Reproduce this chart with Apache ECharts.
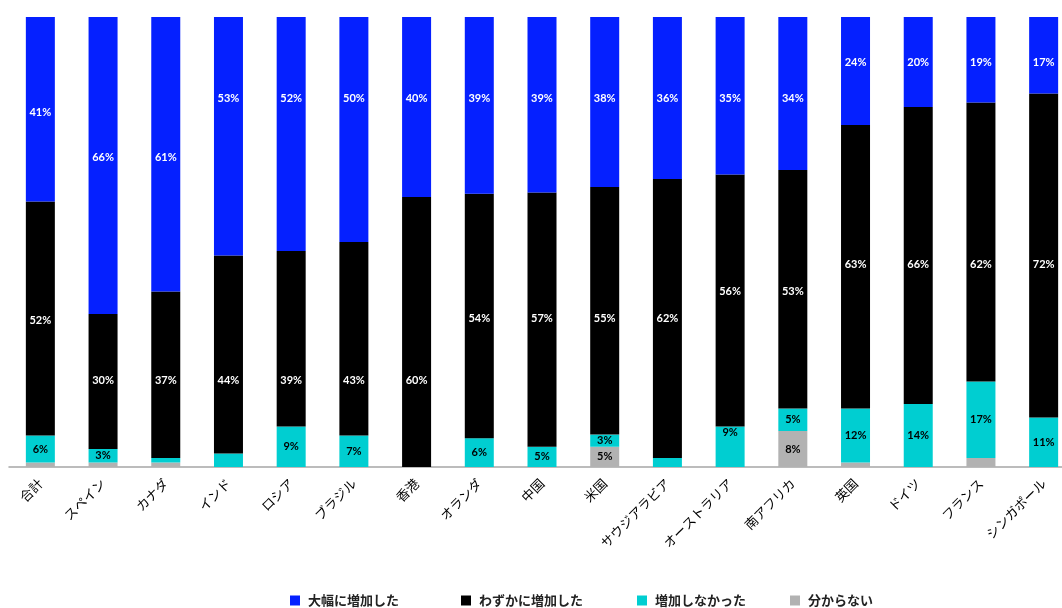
<!DOCTYPE html>
<html>
<head>
<meta charset="utf-8">
<script src="https://cdn.jsdelivr.net/npm/echarts@6/dist/echarts.min.js"></script>
<style>html,body{margin:0;padding:0;background:#fff;overflow:hidden}#c{width:1080px;height:608px}</style>
</head>
<body>
<div id="c"></div>
<script>
const categories = ['合計','スペイン','カナダ','インド','ロシア','ブラジル','香港','オランダ','中国','米国','サウジアラビア','オーストラリア','南アフリカ','英国','ドイツ','フランス','シンガポール'];
const seriesNames = ['大幅に増加した','わずかに増加した','増加しなかった','分からない'];
const unknown   = [1, 1, 1, 0, 0, 0, 0, 0, 0, 4.5, 0, 0, 8, 1, 0, 2, 0];
const noIncrease= [6, 3, 1, 3, 9, 7, 0, 6.4, 4.5, 2.7, 2, 9, 5, 12, 14, 17, 11];
const slight    = [52, 30, 37, 44, 39, 43, 60, 54.3, 56.5, 55, 62, 56, 53, 63, 66, 62, 72];
const large     = [41, 66, 61, 53, 52, 50, 40, 39.3, 39, 37.8, 36, 35, 34, 24, 20, 19, 17];

// label placement (style): value level on the axis where each label sits, null = centred
const largeLabelLevels  = [78.7, 68.7, 68.7, 81.9, 81.9, 81.9, 81.9, 81.9, 81.9, 81.9, 81.9, 81.9, 81.9, 89.8, 89.8, 89.8, 89.8];
const slightLabelLevels = [32.5, 19.3, 19.3, 19.3, 19.3, 19.3, 19.3, 33.1, 33.1, 33.1, 33.1, 39.0, 39.0, 45.1, 45.1, 45.1, 45.1];
const noIncLabelLevels  = [null, null, null, null, null, null, null, null, null, null, null, 7.6, null, null, null, null, null];
const hiddenLabels = { '増加しなかった': ['インド'] };

const colors = ['#0520ff', '#000000', '#00ced1', '#b2b2b2'];
const labelColors = ['#ffffff', '#ffffff', '#000000', '#000000'];

const chart = echarts.init(document.getElementById('c'));
function labelBase(idx) {
  return {
    show: true, position: 'inside', color: labelColors[idx],
    fontFamily: 'Lato', fontWeight: 'bold', fontSize: 11,
    formatter: p => (Math.round(p.value) >= 3 ? Math.round(p.value) + '%' : '')
  };
}
function mk(name, data, idx) {
  return {
    name: name, type: 'bar', stack: 'total', data: data.slice(), barWidth: 29,
    itemStyle: { color: colors[idx] },
    label: labelBase(idx)
  };
}
const legendLefts = [285, 456, 632, 785];
const series = [
  mk(seriesNames[3], unknown, 3),
  mk(seriesNames[2], noIncrease, 2),
  mk(seriesNames[1], slight, 1),
  mk(seriesNames[0], large, 0)
];
chart.setOption({
  animation: false,
  grid: { left: 9, top: 17, width: 1066, height: 450, containLabel: false },
  legend: seriesNames.map((n, i) => ({
    data: [n], left: legendLefts[i], top: 589, icon: 'rect',
    itemWidth: 10, itemHeight: 10, itemGap: 0,
    textStyle: { fontFamily: 'Noto Sans CJK JP', fontSize: 13, fontWeight: 'bold', color: '#222', padding: [0, 0, 0, 3] }
  })),
  xAxis: {
    type: 'category', data: categories,
    axisLine: { lineStyle: { color: '#a6a6a6', width: 1.5 } },
    axisTick: { show: false },
    axisLabel: { rotate: 45, interval: 0, margin: 14, fontFamily: 'Noto Sans CJK JP', fontSize: 13, color: '#000' }
  },
  yAxis: { type: 'value', min: 0, max: 100, show: false },
  series: series
});

// reposition labels using the library's own scale
const stackOrder = [unknown, noIncrease, slight, large];
const levelsBySeries = [null, noIncLabelLevels, slightLabelLevels, largeLabelLevels];
const newSeries = series.map((s, si) => {
  const data = stackOrder[si].map((v, i) => {
    const item = { value: v };
    const hide = hiddenLabels[s.name] && hiddenLabels[s.name].indexOf(categories[i]) >= 0;
    if (hide) { item.label = { show: false }; return item; }
    const levels = levelsBySeries[si];
    if (levels && levels[i] != null) {
      let top = 0;
      for (let k = 0; k <= si; k++) top += stackOrder[k][i];
      const topPx = chart.convertToPixel({ gridIndex: 0 }, [i, top])[1];
      const lvlPx = chart.convertToPixel({ gridIndex: 0 }, [i, levels[i]])[1];
      item.label = { position: ['50%', lvlPx - topPx], align: 'center', verticalAlign: 'middle' };
    }
    return item;
  });
  return { name: s.name, data: data };
});
chart.setOption({ series: newSeries });
</script>
</body>
</html>
